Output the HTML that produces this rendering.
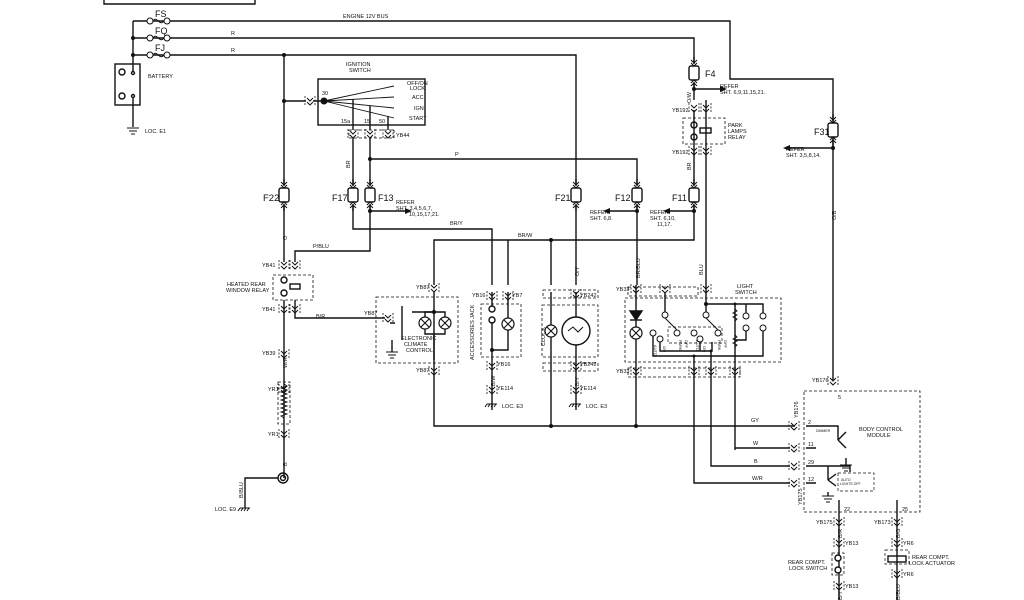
<!DOCTYPE html>
<html><head><meta charset="utf-8"><style>
html,body{margin:0;padding:0;background:#fff;}
svg{display:block;font-family:"Liberation Sans",sans-serif;}
text{fill:#111;}
</style></head><body>
<svg width="1024" height="600" viewBox="0 0 1024 600" xmlns="http://www.w3.org/2000/svg">
<defs>
<g id="fuse"><line x1="0" y1="-16" x2="0" y2="-9" stroke="#111" stroke-width="1.4"/><path d="M-3,-13 L0,-10 L3,-13 M-3,-10 L0,-7 L3,-10" fill="none" stroke="#111" stroke-width="1"/><rect x="-5" y="-7" width="10" height="14" rx="2" fill="#fff" stroke="#111" stroke-width="1.4"/><path d="M-3,10 L0,7 L3,10 M-3,13 L0,10 L3,13" fill="none" stroke="#111" stroke-width="1"/><line x1="0" y1="9" x2="0" y2="16" stroke="#111" stroke-width="1.4"/></g>
<g id="conn"><path d="M-3,-3 L0,0 L3,-3 M-3,1 L0,4 L3,1" fill="none" stroke="#111" stroke-width="1"/><path d="M-5,-5 v10 M5,-5 v10" stroke="#111" stroke-width="0.8" stroke-dasharray="2,1.5"/></g>
<g id="lamp"><circle r="6" fill="#fff" stroke="#111" stroke-width="1.2"/><path d="M-4,-4 L4,4 M-4,4 L4,-4" stroke="#111" stroke-width="1.1"/></g>
<g id="gnd"><path d="M-6,0 h12 M-4,3 h8 M-2,6 h4" stroke="#111" stroke-width="1"/></g>
<g id="hgnd"><path d="M-5,0 h10 M-5,0 l-2,3 M-2,0 l-2,3 M1,0 l-2,3 M4,0 l-2,3" stroke="#111" stroke-width="1"/></g>
<g id="ct"><circle r="3" fill="#fff" stroke="#111" stroke-width="1"/></g>
</defs>
<g stroke="#111" stroke-width="1.4" fill="none">
<path d="M104,0 V4 H255 V0"/>
<path d="M133,21 V55"/>
<path d="M133,21 H730 V79 H833 V380"/>
<path d="M133,38 H694 V62"/>
<path d="M133,55 H576 V184"/>
<g stroke-width="1" fill="#fff">
<circle cx="150" cy="21" r="3"/><circle cx="167" cy="21" r="3"/>
<circle cx="150" cy="38" r="3"/><circle cx="167" cy="38" r="3"/>
<circle cx="150" cy="55" r="3"/><circle cx="167" cy="55" r="3"/>
</g>
<path d="M153,21 c4,-6 6,6 11,0 M153,38 c4,-6 6,6 11,0 M153,55 c4,-6 6,6 11,0" stroke-width="1"/>
<rect x="115" y="64" width="25" height="41"/>
<circle cx="122" cy="72" r="3"/><circle cx="122" cy="96" r="3"/>
<circle cx="133" cy="73" r="1.5"/><circle cx="133" cy="96" r="1.5"/>
<path d="M133,55 V71 M133,97 V127"/>
<path d="M284,55 V184 M284,206 V262"/>
<path d="M284,101 H306 M313,101 H324"/>
<rect x="318" y="79" width="107" height="46"/>
<path d="M324,101 L394,86 M324,101 L394,97 M324,101 L394,108 M324,101 L394,118" stroke-width="0.9"/>
<path d="M353,99 V130 M370,106 V130 M388,116 V130"/>
<rect x="349" y="130" width="45" height="8" stroke-dasharray="3,2" stroke-width="0.8"/>
<path d="M353,138 V184 M370,138 V184"/>
<path d="M370,159 H637 V184"/>
<path d="M353,206 V229 H492 V285"/>
<path d="M370,206 V251 H295 V262"/>
<path d="M370,211 H405"/>
<path d="M576,206 V285"/>
<path d="M637,206 V285"/>
<path d="M637,211 H610"/>
<path d="M694,84 V100 M694,110 V184 M694,206 V240 H434 V285"/>
<path d="M694,211 H670"/>
<path d="M694,89 H720"/>
<path d="M706,100 V285"/>
<path d="M833,148 H790"/>
<path d="M551,240 V285"/>
<path d="M508,240 V285"/>
<rect x="273" y="275" width="40" height="25" stroke-dasharray="3,2" stroke-width="0.8"/>
<circle cx="284" cy="280" r="3"/><circle cx="284" cy="293" r="3"/>
<rect x="290" y="284" width="10" height="5"/>
<path d="M284,300 V478 M295,300 V318 H385"/>
<rect x="278" y="382" width="12" height="42" stroke-dasharray="3,2" stroke-width="0.8"/>
<path d="M284,384 l3,2 l-6,2 l6,2 l-6,2 l6,2 l-6,2 l6,2 l-6,2 l6,2 l-6,2 l6,2 l-6,2 l6,2 l-6,2 l6,2 l-6,2 l3,2" stroke-width="0.9"/>
<circle cx="283" cy="478" r="5"/><circle cx="283" cy="478" r="2.5"/>
<path d="M278,478 H245 V508"/>
<rect x="376" y="297" width="82" height="66" stroke-dasharray="3,2" stroke-width="0.8"/>
<path d="M434,292 V360 M390,323 H395 M412,312 H434 M402,306 V340"/>
<path d="M434,312 H425 V334 H445 V312 H434"/>
<path d="M434,334 V426 H795"/>
<path d="M392,340 V352"/>
<rect x="481" y="304" width="40" height="53" stroke-dasharray="3,2" stroke-width="0.8"/>
<path d="M492,292 V306 M492,322 V350 M508,292 V350 H492 V410"/>
<circle cx="492" cy="309" r="3"/><circle cx="492" cy="320" r="3"/>
<rect x="542" y="305" width="56" height="52" stroke-dasharray="3,2" stroke-width="0.8"/>
<path d="M551,292 V426 M576,292 V410"/>
<circle cx="576" cy="331" r="14" fill="#fff"/>
<path d="M568,331 l5,-4 l5,5 l5,-5" stroke-width="1"/>
<rect x="543" y="363" width="55" height="8" stroke-dasharray="3,2" stroke-width="0.8"/>
<rect x="543" y="290" width="55" height="8" stroke-dasharray="3,2" stroke-width="0.8"/>
<!-- light switch -->
<rect x="628" y="287" width="70" height="9" stroke-dasharray="3,2" stroke-width="0.8"/>
<rect x="625" y="298" width="156" height="64" stroke-dasharray="3,2" stroke-width="0.8"/>
<rect x="628" y="368" width="112" height="9" stroke-dasharray="3,2" stroke-width="0.8"/>
<path d="M636,285 V426"/>
<path d="M630,311 L642,311 L636,320 Z" fill="#111"/>
<path d="M630,320 H642"/>
<path d="M665,292 V312 M706,285 V312 M706,304 H763 V313 M746,304 V313"/>
<path d="M735,304 V450 M735,448 H790"/>
<path d="M653,336 V356 H735 M660,342 V351 H712 V342 M700,342 V351"/>
<path d="M694,336 V466 M694,466 H790" stroke-width="0"/>
<path d="M711,351 V466 H790 M694,356 V483 H790"/>
<path d="M746,331 V340 H735 M763,331 V356 H735"/>
<path d="M665,318 L677,330 M706,318 L718,330" stroke-width="1"/>
<rect x="668" y="327" width="54" height="16" stroke-dasharray="3,2" stroke-width="0.7"/>
<path d="M735,309 l2,2 l-4,2 l4,2 l-4,2 l4,2 l-2,2 M735,335 l2,2 l-4,2 l4,2 l-4,2 l4,2 l-2,2" stroke-width="0.9"/>
<!-- BCM -->
<rect x="804" y="391" width="116" height="121" stroke-dasharray="3,2" stroke-width="0.8"/>
<path d="M806,426 H838 V440 M838,440 l8,-8 M838,440 l8,8 M846,458 V465"/>
<path d="M806,448 H816 M806,466 H850 V472 M806,483 H816"/>
<path d="M828,466 V480 M828,480 l8,-6 M828,480 l8,6 M828,492 V496"/>
<rect x="838" y="473" width="36" height="18" stroke-dasharray="3,2" stroke-width="0.7"/>
<path d="M839,500 V600 M897,500 V600"/>
<rect x="832" y="553" width="12" height="22" stroke-dasharray="3,2" stroke-width="0.8"/>
<circle cx="838" cy="558" r="3" fill="#fff"/><circle cx="838" cy="570" r="3" fill="#fff"/>
<rect x="888" y="556" width="18" height="6"/>
<rect x="885" y="550" width="24" height="14" stroke-dasharray="3,2" stroke-width="0.7"/>
<rect x="683" y="118" width="42" height="26" stroke-dasharray="3,2" stroke-width="0.8"/>
<circle cx="694" cy="125" r="3"/><circle cx="694" cy="137" r="3"/>
<rect x="700" y="128" width="11" height="5"/>
</g>
<use href="#ct" x="665" y="315"/><use href="#ct" x="706" y="315"/><use href="#ct" x="653" y="333"/><use href="#ct" x="660" y="339"/>
<use href="#ct" x="677" y="333"/><use href="#ct" x="694" y="333"/><use href="#ct" x="700" y="339"/><use href="#ct" x="718" y="333"/>
<use href="#ct" x="746" y="316"/><use href="#ct" x="746" y="328"/><use href="#ct" x="763" y="316"/><use href="#ct" x="763" y="328"/>
<g fill="#111">
<circle cx="133" cy="38" r="2"/><circle cx="133" cy="55" r="2"/>
<circle cx="284" cy="55" r="2"/><circle cx="284" cy="101" r="2"/>
<circle cx="324" cy="101" r="3.5"/><circle cx="370" cy="159" r="2"/>
<circle cx="370" cy="211" r="2"/><circle cx="637" cy="211" r="2"/>
<circle cx="694" cy="211" r="2"/><circle cx="694" cy="89" r="2"/>
<circle cx="833" cy="148" r="2"/><circle cx="551" cy="240" r="2"/>
<circle cx="551" cy="426" r="2"/><circle cx="636" cy="426" r="2"/>
<circle cx="434" cy="312" r="2"/><circle cx="492" cy="350" r="2"/>
<circle cx="706" cy="304" r="2"/><circle cx="735" cy="304" r="1.5"/><circle cx="694" cy="356" r="1.5"/><circle cx="711" cy="351" r="1.5"/>
<path d="M405,208 L412,211 L405,214 Z M610,208 L603,211 L610,214 Z M670,208 L663,211 L670,214 Z M720,86 L727,89 L720,92 Z M790,145 L783,148 L790,151 Z"/>
</g>
<use href="#fuse" x="284" y="195"/><use href="#fuse" x="353" y="195"/><use href="#fuse" x="370" y="195"/>
<use href="#fuse" x="576" y="195"/><use href="#fuse" x="637" y="195"/><use href="#fuse" x="694" y="195"/>
<use href="#fuse" x="694" y="73"/><use href="#fuse" x="833" y="130"/>
<use href="#conn" x="284" y="265"/><use href="#conn" x="295" y="265"/><use href="#conn" x="284" y="309"/><use href="#conn" x="295" y="309"/>
<use href="#conn" x="284" y="354"/><use href="#conn" x="284" y="389"/><use href="#conn" x="284" y="434"/>
<use href="#conn" x="434" y="288"/><use href="#conn" x="434" y="371"/><use href="#conn" x="388" y="318"/>
<use href="#conn" x="492" y="296"/><use href="#conn" x="508" y="296"/><use href="#conn" x="492" y="366"/><use href="#conn" x="492" y="390"/>
<use href="#conn" x="576" y="294"/><use href="#conn" x="576" y="366"/><use href="#conn" x="576" y="390"/>
<use href="#conn" x="636" y="289"/><use href="#conn" x="636" y="371"/><use href="#conn" x="665" y="289"/><use href="#conn" x="706" y="289"/>
<use href="#conn" x="694" y="371"/><use href="#conn" x="711" y="371"/><use href="#conn" x="735" y="371"/>
<use href="#conn" x="694" y="108"/><use href="#conn" x="706" y="108"/><use href="#conn" x="694" y="151"/><use href="#conn" x="706" y="151"/>
<use href="#conn" x="833" y="381"/><use href="#conn" x="794" y="426"/><use href="#conn" x="794" y="448"/><use href="#conn" x="794" y="466"/><use href="#conn" x="794" y="483"/>
<use href="#conn" x="839" y="522"/><use href="#conn" x="897" y="522"/><use href="#conn" x="839" y="543"/><use href="#conn" x="897" y="543"/>
<use href="#conn" x="839" y="586"/><use href="#conn" x="897" y="574"/>
<use href="#conn" x="310" y="101"/><use href="#conn" x="353" y="134"/><use href="#conn" x="370" y="134"/><use href="#conn" x="388" y="134"/>
<use href="#lamp" x="425" y="323"/><use href="#lamp" x="445" y="323"/><use href="#lamp" x="508" y="324"/><use href="#lamp" x="551" y="331"/><use href="#lamp" x="636" y="333"/>
<use href="#gnd" x="133" y="128"/><use href="#gnd" x="392" y="352"/><use href="#gnd" x="828" y="496"/><use href="#gnd" x="846" y="465"/>
<use href="#hgnd" x="245" y="508"/><use href="#hgnd" x="492" y="404"/><use href="#hgnd" x="576" y="404"/>
<g font-size="9">
<text x="155" y="17">FS</text><text x="155" y="34">FQ</text><text x="155" y="51">FJ</text>
<text x="263" y="201" font-size="9.5">F22</text><text x="332" y="201">F17</text><text x="378" y="201">F13</text>
<text x="555" y="201">F21</text><text x="615" y="201">F12</text><text x="672" y="201">F11</text>
<text x="705" y="77">F4</text><text x="814" y="135">F31</text>
</g>
<g font-size="5.5">
<text x="343" y="18">ENGINE 12V BUS</text><text x="231" y="35">R</text><text x="231" y="52">R</text>
<text x="148" y="78">BATTERY</text><text x="145" y="133">LOC. E1</text>
<text x="346" y="66">IGNITION</text><text x="349" y="72">SWITCH</text>
<text x="322" y="95">30</text>
<text x="407" y="85">OFF/ON</text><text x="410" y="90">LOCK</text><text x="412" y="99">ACC</text><text x="414" y="110">IGN</text><text x="409" y="120">START</text>
<text x="341" y="123">15a</text><text x="364" y="123">15</text><text x="379" y="123">50</text><text x="396" y="137">YB44</text>
<text x="455" y="156">P</text>
<text x="396" y="204">REFER</text><text x="396" y="210">SHT. 3,4,5,6,7,</text><text x="409" y="216">10,15,17,21.</text>
<text x="450" y="225">BR/Y</text><text x="313" y="248">P/BLU</text><text x="518" y="237">BR/W</text>
<text x="590" y="214">REFER</text><text x="590" y="220">SHT. 6,8.</text>
<text x="650" y="214">REFER</text><text x="650" y="220">SHT. 6,10,</text><text x="657" y="226">11,17.</text>
<text x="720" y="88">REFER</text><text x="720" y="94">SHT. 6,9,11,15,21.</text>
<text x="786" y="151">REFER</text><text x="786" y="157">SHT. 3,5,8,14.</text>
<text x="672" y="112">YB192</text><text x="672" y="154">YB192</text>
<text x="728" y="127">PARK</text><text x="728" y="133">LAMPS</text><text x="728" y="139">RELAY</text>
<text x="262" y="267">YB41</text><text x="262" y="311">YB41</text>
<text x="227" y="286">HEATED REAR</text><text x="226" y="292">WINDOW RELAY</text>
<text x="316" y="318">B/R</text><text x="262" y="355">YB39</text><text x="268" y="391">YR1</text><text x="268" y="436">YR1</text>
<text x="416" y="289">YB87</text><text x="364" y="315">YB87</text><text x="416" y="372">YB87</text>
<text x="401" y="340">ELECTRONIC</text><text x="404" y="346">CLIMATE</text><text x="406" y="352">CONTROL</text>
<text x="472" y="297">YB16</text><text x="512" y="297">YB7</text><text x="497" y="366">YB16</text><text x="497" y="390">YE114</text>
<text x="502" y="408">LOC. E3</text><text x="580" y="297">YB242</text><text x="580" y="366">YB242</text><text x="580" y="390">YE114</text><text x="586" y="408">LOC. E3</text>
<text x="616" y="291">YB33</text><text x="616" y="373">YB33</text>
<text x="737" y="288">LIGHT</text><text x="735" y="294">SWITCH</text>
<text x="751" y="422">GY</text><text x="753" y="445">W</text><text x="754" y="463">B</text><text x="752" y="480">W/R</text>
<text x="808" y="424">2</text><text x="808" y="446">11</text><text x="808" y="464">29</text><text x="808" y="481">12</text><text x="838" y="399">5</text>
<text x="812" y="382">YB176</text>
<text x="859" y="431">BODY CONTROL</text><text x="867" y="437">MODULE</text>
<text x="816" y="432" font-size="3.5">DIMMER</text><text x="841" y="481" font-size="3.5">AUTO</text><text x="840" y="485" font-size="3.5">LIGHTS OFF</text>
<text x="844" y="511">22</text><text x="902" y="511">25</text>
<text x="816" y="524">YB175</text><text x="874" y="524">YB173</text><text x="845" y="545">YB13</text><text x="903" y="545">YR6</text>
<text x="788" y="564">REAR COMPT.</text><text x="789" y="570">LOCK SWITCH</text>
<text x="912" y="559">REAR COMPT.</text><text x="909" y="565">LOCK ACTUATOR</text>
<text x="845" y="588">YB13</text><text x="903" y="576">YR6</text>
<text x="215" y="511">LOC. E9</text>
</g>
<g font-size="4">
<text transform="translate(654,345) rotate(90)">AUTO</text><text transform="translate(663,346) rotate(90)">ON</text>
<text transform="translate(679,340) rotate(90)">PARK</text><text transform="translate(685,340) rotate(90)">OFF</text>
<text transform="translate(696,340) rotate(90)">AUTO</text><text transform="translate(703,346) rotate(90)">ON</text>
<text transform="translate(718,340) rotate(90)">PARK</text><text transform="translate(724,340) rotate(90)">OFF</text>
</g>
<g font-size="5.5">
<text transform="translate(350,168) rotate(-90)">BR</text>
<text transform="translate(287,240) rotate(-90)">O</text>
<text transform="translate(287,368) rotate(-90)">W/R</text>
<text transform="translate(287,466) rotate(-90)">B</text>
<text transform="translate(243,498) rotate(-90)">B/BLU</text>
<text transform="translate(474,360) rotate(-90)">ACCESSORIES JACK</text>
<text transform="translate(545,346) rotate(-90)">CLOCK</text>
<text transform="translate(579,276) rotate(-90)">O/Y</text>
<text transform="translate(640,278) rotate(-90)">BR/BLU</text>
<text transform="translate(703,275) rotate(-90)">BLU</text>
<text transform="translate(836,220) rotate(-90)">O/B</text>
<text transform="translate(691,170) rotate(-90)">BR</text>
<text transform="translate(691,103) rotate(-90)">O/W</text>
<text transform="translate(495,386) rotate(-90)">B/W</text>
<text transform="translate(579,386) rotate(-90)">B/Y</text>
<text transform="translate(802,505) rotate(-90)">YB175</text>
<text transform="translate(798,418) rotate(-90)">YB176</text>
<text transform="translate(842,538) rotate(-90)">B/R</text>
<text transform="translate(900,538) rotate(-90)">B/G</text>
<text transform="translate(842,600) rotate(-90)">B/Y</text>
<text transform="translate(900,600) rotate(-90)">B/BLU</text>
</g>
</svg>
</body></html>
